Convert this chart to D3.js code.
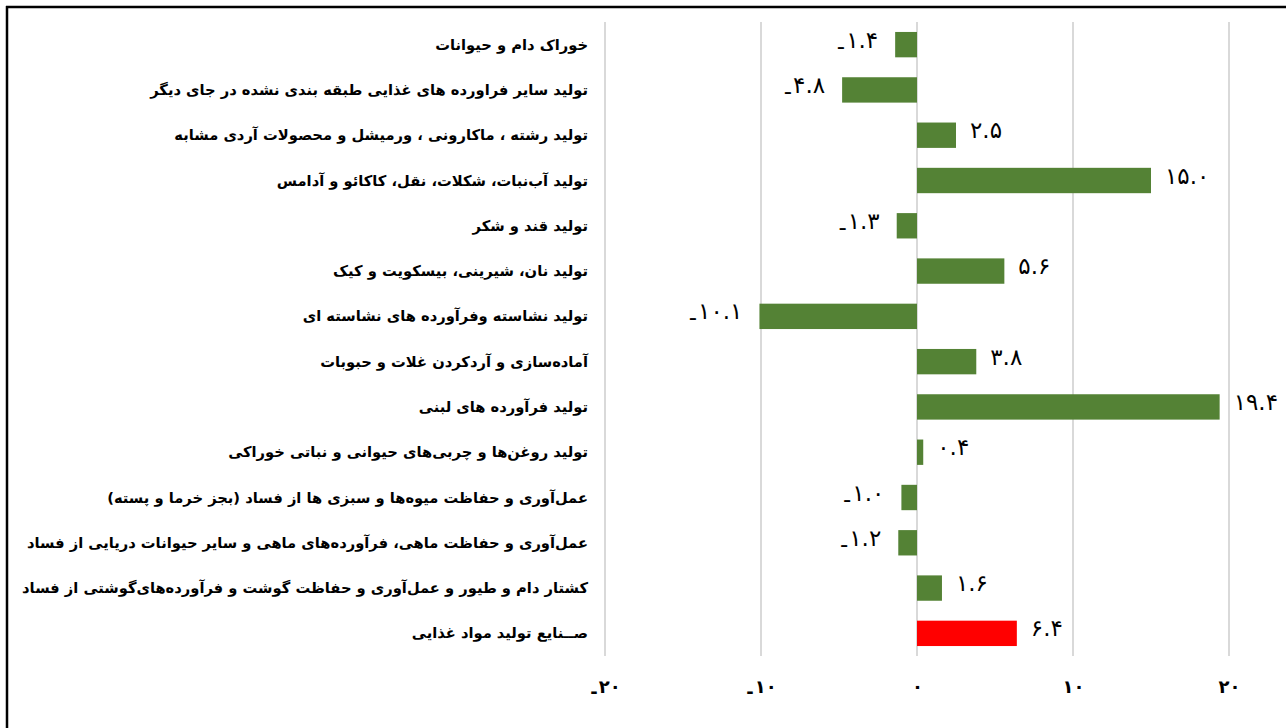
<!DOCTYPE html>
<html>
<head>
<meta charset="utf-8">
<script src="https://cdn.jsdelivr.net/npm/d3@7/dist/d3.min.js"></script>
<style>
  html, body { margin: 0; padding: 0; background: #fff; }
  svg { display: block; }
  .num { unicode-bidi: bidi-override; direction: ltr; }
</style>
</head>
<body>
<svg id="chart" width="1286" height="728"></svg>
<script>
const categories = [
  "خوراک دام و حیوانات",
  "تولید سایر فراورده های غذایی طبقه بندی نشده در جای دیگر",
  "تولید رشته ، ماکارونی ، ورمیشل و محصولات آردی مشابه",
  "تولید آب\u200cنبات، شکلات، نقل، کاکائو و آدامس",
  "تولید قند و شکر",
  "تولید نان، شیرینی، بیسکویت و کیک",
  "تولید نشاسته وفرآورده های نشاسته ای",
  "آماده\u200cسازی و آردکردن غلات و حبوبات",
  "تولید فرآورده های لبنی",
  "تولید روغن\u200cها و چربی\u200cهای حیوانی و نباتی خوراکی",
  "عمل\u200cآوری و حفاظت میوه\u200cها و سبزی ها از فساد (بجز خرما و پسته)",
  "عمل\u200cآوری و حفاظت ماهی، فرآورده\u200cهای ماهی و سایر حیوانات دریایی از فساد",
  "کشتار دام و طیور و عمل\u200cآوری و حفاظت گوشت و فرآورده\u200cهای\u200cگوشتی از فساد",
  "صــنایع تولید مواد غذایی"
];
const values = [-1.4, -4.8, 2.5, 15.0, -1.3, 5.6, -10.1, 3.8, 19.4, 0.4, -1.0, -1.2, 1.6, 6.4];
const highlight = [false, false, false, false, false, false, false, false, false, false, false, false, false, true];
const xTicks = [-20, -10, 0, 10, 20];

const faDigits = "۰۱۲۳۴۵۶۷۸۹";
const toFa = s => String(s).replace(/[0-9]/g, d => faDigits[+d]);

const svg = d3.select("#chart");
const W = 1286, H = 728;
const plot = { left: 605, right: 1229, top: 22, bottom: 656 };

const x = d3.scaleLinear().domain([-20, 20]).range([plot.left, plot.right]);
const y = d3.scaleBand().domain(d3.range(categories.length)).range([plot.top, plot.bottom]).paddingInner(0.44).paddingOuter(0.22);

// frame
svg.append("line").attr("x1", 6).attr("x2", W).attr("y1", 7).attr("y2", 7)
  .attr("stroke", "#000").attr("stroke-width", 2.5);
svg.append("line").attr("x1", 7).attr("x2", 7).attr("y1", 6).attr("y2", H)
  .attr("stroke", "#000").attr("stroke-width", 2.5);

// gridlines
svg.append("g").selectAll("line").data(xTicks).join("line")
  .attr("x1", d => x(d)).attr("x2", d => x(d))
  .attr("y1", plot.top).attr("y2", plot.bottom)
  .attr("stroke", "#d9d9d9").attr("stroke-width", 2);

// helper: write a signed Persian number with a low minus sign
function writeNum(sel, v, decimals, drop) {
  sel.text(null);
  const s = decimals == null ? String(Math.abs(v)) : Math.abs(v).toFixed(decimals);
  if (v < 0) {
    sel.append("tspan").attr("dy", drop).text("-");
    sel.append("tspan").attr("dy", -drop).attr("dx", 1).text(toFa(s));
  } else {
    sel.append("tspan").text(toFa(s));
  }
}

// x axis tick labels via d3 axis
const axis = d3.axisBottom(x).tickValues(xTicks).tickSize(0).tickPadding(0);
const gAxis = svg.append("g").attr("transform", `translate(0, 693)`).call(axis);
gAxis.select(".domain").remove();
gAxis.selectAll("text")
  .attr("class", "num")
  .attr("dy", null).attr("y", 0)
  .attr("font-family", "DejaVu Sans").attr("font-weight", "bold")
  .attr("font-size", 18).attr("fill", "#000")
  .each(function(d) { writeNum(d3.select(this), d, null, 5); });

// bars
svg.append("g").selectAll("rect").data(values).join("rect")
  .attr("x", d => x(Math.min(0, d)))
  .attr("width", d => Math.abs(x(d) - x(0)))
  .attr("y", (d, i) => y(i))
  .attr("height", y.bandwidth())
  .attr("fill", (d, i) => highlight[i] ? "#ff0000" : "#548235");

// value labels
svg.append("g").selectAll("text").data(values).join("text")
  .attr("class", "num")
  .attr("x", d => d < 0 ? x(d) - 17 : x(d) + 14)
  .attr("y", (d, i) => y(i) + y.bandwidth() / 2 + 3)
  .attr("text-anchor", d => d < 0 ? "end" : "start")
  .attr("font-family", "DejaVu Sans")
  .attr("font-size", 23)
  .attr("fill", "#000")
  .each(function(d) { writeNum(d3.select(this), d, 1, 6); });

// category labels
svg.append("g").selectAll("text").data(categories).join("text")
  .attr("x", 588)
  .attr("y", (d, i) => y(i) + y.bandwidth() / 2 + 5)
  .attr("direction", "rtl")
  .attr("text-anchor", "start")
  .attr("font-family", "DejaVu Sans")
  .attr("font-weight", "bold")
  .attr("font-size", 14.7)
  .attr("fill", "#000")
  .text(d => d);
</script>
</body>
</html>
